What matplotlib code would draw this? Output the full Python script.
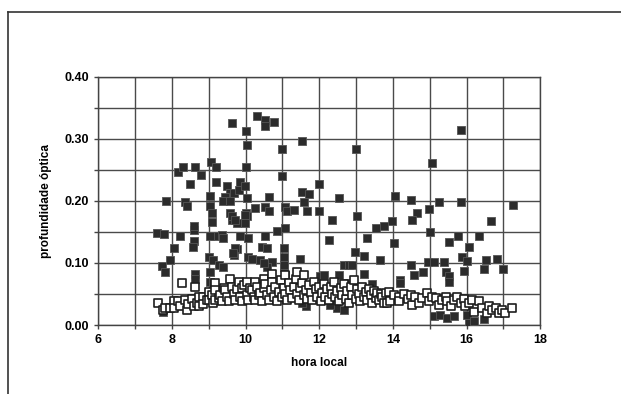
import matplotlib
matplotlib.use("Agg")
import matplotlib.pyplot as plt
from matplotlib.lines import Line2D
from matplotlib.ticker import MultipleLocator

# profundidade optica - serie 1 (quadrados cheios)
hora_cheio = [7.59, 7.80, 7.85, 7.73, 7.82, 7.94, 8.05, 8.18, 8.30, 8.36, 8.41, 8.23,
              8.50, 8.59, 8.59, 8.57, 8.62, 8.62, 8.62, 8.79, 9.03, 9.03, 9.07, 9.20,
              9.09, 9.09, 9.02, 9.13, 9.27, 9.39, 9.04, 9.16, 9.03, 9.36, 9.38, 9.51,
              9.59, 9.70, 9.81, 9.63, 9.59, 9.63, 9.77, 9.70, 9.77, 9.86, 9.99, 10.02,
              10.04, 10.02, 10.31, 10.54, 10.54, 10.76, 10.99, 11.53, 13.01, 10.99, 11.99,
              11.53, 11.72, 11.58, 11.67, 12.53, 11.99, 10.65, 10.54, 10.65, 10.27, 11.08,
              11.13, 11.31, 10.02, 10.04, 9.99, 12.35, 13.03, 14.07, 14.48, 14.66, 14.52,
              13.98, 13.53, 13.75, 13.30, 14.03, 12.26, 10.86, 11.08, 10.54, 10.45, 10.59,
              11.04, 10.08, 9.86, 9.72, 9.66, 10.08, 10.40, 10.72, 10.59, 11.04, 11.04,
              11.49, 12.98, 13.21, 12.67, 12.80, 12.89, 13.66, 12.03, 12.12, 12.53, 13.21,
              14.20, 14.20, 13.44, 12.70, 11.63, 12.49, 12.67, 12.30, 15.86, 15.07, 15.25,
              15.86, 17.27, 14.98, 16.65, 15.02, 15.76, 16.33, 15.52, 16.06, 14.95, 15.11,
              15.40, 15.88, 16.02, 16.54, 16.83, 14.82, 15.43, 15.52, 15.52, 15.93, 16.47,
              17.00, 14.48, 14.57, 15.11, 15.29, 15.47, 15.65, 16.02, 16.06, 16.20, 16.47,
              9.45, 9.40, 9.59, 10.04, 9.63, 9.72, 9.99, 8.59, 9.20, 9.03, 9.13, 10.18,
              10.49, 7.77, 11.53, 11.04, 11.08]
tau_cheio = [0.148, 0.147, 0.200, 0.095, 0.086, 0.105, 0.124, 0.247, 0.255, 0.199, 0.192, 0.143,
             0.228, 0.153, 0.136, 0.126, 0.083, 0.075, 0.254, 0.242, 0.208, 0.192, 0.262, 0.254,
             0.180, 0.166, 0.110, 0.105, 0.097, 0.094, 0.086, 0.143, 0.143, 0.145, 0.140, 0.224,
             0.212, 0.213, 0.218, 0.325, 0.180, 0.169, 0.164, 0.113, 0.122, 0.231, 0.224, 0.312,
             0.290, 0.255, 0.337, 0.330, 0.320, 0.327, 0.283, 0.297, 0.283, 0.240, 0.228,
             0.215, 0.211, 0.199, 0.184, 0.205, 0.184, 0.207, 0.191, 0.183, 0.188, 0.191,
             0.183, 0.185, 0.180, 0.175, 0.164, 0.170, 0.175, 0.208, 0.202, 0.180, 0.169,
             0.167, 0.156, 0.159, 0.140, 0.133, 0.137, 0.152, 0.156, 0.144, 0.126, 0.124,
             0.124, 0.140, 0.143, 0.124, 0.116, 0.110, 0.105, 0.102, 0.094, 0.109, 0.094,
             0.106, 0.117, 0.111, 0.097, 0.097, 0.097, 0.105, 0.079, 0.081, 0.081, 0.083,
             0.073, 0.067, 0.066, 0.067, 0.031, 0.027, 0.024, 0.032, 0.315, 0.261, 0.199,
             0.199, 0.193, 0.187, 0.168, 0.150, 0.143, 0.143, 0.134, 0.125, 0.102, 0.102,
             0.102, 0.109, 0.103, 0.105, 0.107, 0.086, 0.086, 0.079, 0.070, 0.087, 0.091,
             0.090, 0.097, 0.081, 0.014, 0.017, 0.011, 0.015, 0.016, 0.003, 0.006, 0.010,
             0.207, 0.200, 0.200, 0.204, 0.175, 0.169, 0.177, 0.159, 0.231, 0.070, 0.067, 0.107,
             0.100, 0.021, 0.035, 0.097, 0.081]

# serie 2 (quadrados vazios)
hora_vazio = [7.62, 7.75, 7.82, 7.96, 8.05, 8.05, 8.18, 8.23, 8.27, 8.36, 8.41, 8.45,
              8.55, 8.59, 8.64, 8.68, 8.73, 8.73, 8.86, 8.86, 8.95, 9.00, 9.00, 9.09,
              9.13, 9.18, 9.18, 9.18, 9.27, 9.32, 9.36, 9.41, 9.45, 9.50, 9.54, 9.59,
              9.63, 9.68, 9.72, 9.77, 9.81, 9.86, 9.90, 9.90, 9.95, 10.04, 10.04, 10.08,
              10.13, 10.18, 10.22, 10.27, 10.27, 10.32, 10.36, 10.40, 10.45, 10.49, 10.49,
              10.54, 10.59, 10.63, 10.68, 10.72, 10.72, 10.77, 10.81, 10.86, 10.90, 10.95,
              10.99, 11.04, 11.08, 11.08, 11.13, 11.18, 11.22, 11.27, 11.31, 11.36, 11.40,
              11.40, 11.45, 11.49, 11.54, 11.58, 11.58, 11.63, 11.68, 11.72, 11.77, 11.81,
              11.86, 11.90, 11.95, 11.99, 12.04, 12.08, 12.13, 12.17, 12.22, 12.26, 12.31,
              12.35, 12.40, 12.44, 12.49, 12.53, 12.58, 12.62, 12.67, 12.72, 12.76, 12.81,
              12.85, 12.90, 12.94, 12.99, 13.03, 13.08, 13.12, 13.17, 13.21, 13.26, 13.30,
              13.35, 13.40, 13.44, 13.49, 13.53, 13.58, 13.62, 13.67, 13.71, 13.76, 13.80,
              13.84, 13.89, 13.93, 14.02, 14.16, 14.16, 14.30, 14.40, 14.48, 14.52, 14.61,
              14.70, 14.80, 14.93, 14.98, 15.07, 15.16, 15.25, 15.34, 15.43, 15.47, 15.57,
              15.65, 15.75, 15.84, 15.93, 15.97, 16.06, 16.15, 16.20, 16.33, 16.42, 16.56,
              16.60, 16.69, 16.80, 16.88, 16.97, 17.05, 17.24]
tau_vazio = [0.036, 0.024, 0.028, 0.027, 0.038, 0.028, 0.038, 0.030, 0.067, 0.040, 0.024, 0.034,
             0.042, 0.030, 0.062, 0.036, 0.046, 0.030, 0.046, 0.034, 0.040, 0.054, 0.040, 0.048,
             0.035, 0.067, 0.056, 0.040, 0.044, 0.048, 0.038, 0.060, 0.056, 0.045, 0.038, 0.075,
             0.062, 0.050, 0.040, 0.058, 0.070, 0.046, 0.059, 0.038, 0.065, 0.070, 0.048, 0.040,
             0.060, 0.056, 0.045, 0.070, 0.040, 0.062, 0.048, 0.052, 0.038, 0.075, 0.059,
             0.066, 0.048, 0.040, 0.056, 0.083, 0.070, 0.046, 0.062, 0.038, 0.054, 0.072,
             0.045, 0.060, 0.081, 0.050, 0.040, 0.068, 0.056, 0.044, 0.062, 0.074, 0.086,
             0.050, 0.040, 0.060, 0.068, 0.081, 0.048, 0.056, 0.042, 0.065, 0.052, 0.040,
             0.070, 0.058, 0.046, 0.062, 0.038, 0.052, 0.066, 0.045, 0.058, 0.040, 0.062,
             0.050, 0.070, 0.045, 0.055, 0.038, 0.060, 0.048, 0.066, 0.042, 0.055, 0.036,
             0.062, 0.048, 0.072, 0.042, 0.058, 0.050, 0.038, 0.062, 0.046, 0.054, 0.040,
             0.058, 0.048, 0.036, 0.055, 0.044, 0.052, 0.040, 0.050, 0.045, 0.036, 0.052,
             0.035, 0.054, 0.038, 0.048, 0.046, 0.038, 0.050, 0.042, 0.048, 0.032, 0.046,
             0.035, 0.044, 0.051, 0.038, 0.046, 0.043, 0.032, 0.040, 0.046, 0.038, 0.030,
             0.040, 0.045, 0.035, 0.042, 0.030, 0.035, 0.040, 0.021, 0.038, 0.027, 0.019,
             0.030, 0.024, 0.028, 0.019, 0.024, 0.020, 0.027]

fig = plt.figure(figsize=(6.21, 3.94), dpi=100)
ax = fig.add_axes([0.158, 0.175, 0.712, 0.630])

ax.scatter(hora_cheio, tau_cheio, marker='s', s=36, c='#2b2b2b',
           edgecolors='#555555', linewidths=0.6, zorder=3)
ax.scatter(hora_vazio, tau_vazio, marker='s', s=30, c='white',
           edgecolors='#1e1e1e', linewidths=1.2, zorder=4)

ax.set_xlim(6, 18)
ax.set_ylim(0, 0.40)
ax.xaxis.set_major_locator(MultipleLocator(2))
ax.xaxis.set_minor_locator(MultipleLocator(1))
ax.yaxis.set_major_locator(MultipleLocator(0.10))
ax.yaxis.set_minor_locator(MultipleLocator(0.05))
ax.grid(True, which='both', color='#4a4a4a', lw=1.0)
ax.set_axisbelow(True)
ax.tick_params(which='both', direction='out', length=3, color='#444444', width=1)
ax.tick_params(labelsize=9)
ax.set_yticklabels(['%.2f' % v for v in ax.get_yticks()])
for lab in ax.get_xticklabels() + ax.get_yticklabels():
    lab.set_fontweight('bold')
    lab.set_fontfamily('Liberation Sans')
for sp in ax.spines.values():
    sp.set_color('#444444')
    sp.set_linewidth(1.0)

ax.set_xlabel('hora local', fontsize=8.5, fontweight='bold', family='Liberation Sans', labelpad=8)
ax.set_ylabel('profundidade óptica', fontsize=8.5, fontweight='bold', family='Liberation Sans', labelpad=9)

# moldura do grafico
fig.add_artist(Line2D([0.013, 1.0], [0.970, 0.970], color='#333333', lw=1.2))
fig.add_artist(Line2D([0.013, 0.013], [0.0, 0.970], color='#333333', lw=1.2))

fig.savefig('out.png', dpi=100)
